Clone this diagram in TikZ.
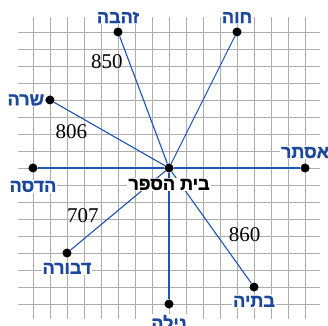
\documentclass[tikz,border=0pt]{standalone}
\usepackage{fontspec}
\setmainfont{Liberation Serif}
\newfontfamily\hebfont[Script=Hebrew, FakeBold=1.2]{Liberation Sans Bold}
\TeXXeTstate=1
\usepackage{xcolor}
\usetikzlibrary{positioning}
\definecolor{spokeblue}{RGB}{30,85,180}
\definecolor{nameblue}{RGB}{28,72,155}

\begin{document}
\begin{tikzpicture}[
    x=17pt, y=17pt,
    grid line/.style={draw=black!32, line width=0.8pt},
    spoke/.style={draw=spokeblue, line width=1.1pt},
    house/.style={circle, fill=black, inner sep=0pt, minimum size=9pt},
    girl label/.style={fill=white, inner sep=1pt, text=nameblue, font=\hebfont\fontsize{18}{18}\selectfont},
    dist label/.style={inner sep=0pt, font=\fontsize{21}{21}\selectfont}
]
\useasboundingbox (-9.94,-9.29) rectangle (9.35,9.88);
% graph paper
\foreach \i in {-8,...,8} {
    \draw[grid line] (-8.9,\i) -- (8.9,\i);
    \draw[grid line] (\i,-8.9) -- (\i,8.9);
}
% houses
\node[house] (school) at (0,0) {};
\node[house] (zehava) at (-3,8) {};
\node[house] (chava) at (4,8) {};
\node[house] (sarah) at (-7,4) {};
\node[house] (ester) at (8,0) {};
\node[house] (hadassa) at (-8,0) {};
\node[house] (dvora) at (-6,-5) {};
\node[house] (nila) at (0,-8) {};
\node[house] (batya) at (5,-7) {};
\foreach \h in {zehava,chava,sarah,ester,hadassa,dvora,nila,batya}
    \draw[spoke] (school) -- (\h);
% names
\node[girl label, text=black, below=5pt of school] (school label) {\beginR בית הספר\endR};
\node[girl label, above=3pt of zehava] (zehava label) {\beginR זהבה\endR};
\node[girl label, above=3pt of chava] (chava label) {\beginR חוה\endR};
\node[girl label, left=0pt of sarah] (sarah label) {\beginR שרה\endR};
\node[girl label, above=4pt of ester] (ester label) {\beginR אסתר\endR};
\node[girl label, below=7pt of hadassa] (hadassa label) {\beginR הדסה\endR};
\node[girl label, below=4pt of dvora] (dvora label) {\beginR דבורה\endR};
\node[girl label, below=5pt of nila] (nila label) {\beginR נילה\endR};
\node[girl label, below=3pt of batya] (batya label) {\beginR בתיה\endR};
% distances
\node[dist label] (d850) at (-3.65,6.26) {850};
\node[dist label] (d806) at (-5.74,2.15) {806};
\node[dist label] (d707) at (-5.06,-2.82) {707};
\node[dist label] (d860) at (4.44,-3.91) {860};
\end{tikzpicture}
\end{document}
